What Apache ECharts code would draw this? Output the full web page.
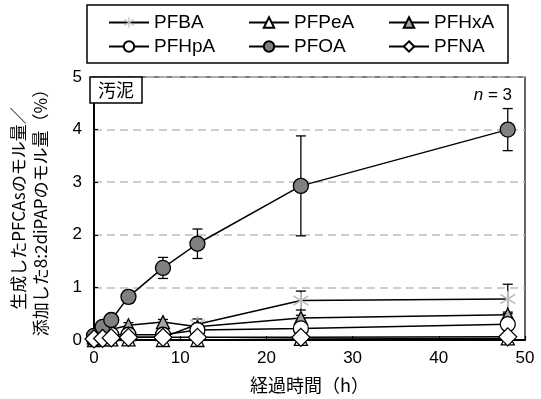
<!DOCTYPE html>
<html>
<head>
<meta charset="utf-8">
<script src="https://cdn.jsdelivr.net/npm/echarts@6/dist/echarts.min.js"></script>
<style>
  html, body { margin: 0; padding: 0; background: #fff; }
  #chart { width: 541px; height: 399px; }
</style>
</head>
<body>
<div id="chart"></div>
<script>
// Elapsed time (h)
const times = [0, 1, 2, 4, 8, 12, 24, 48];

// Mean yield (%) and standard deviation per compound
const PFBA      = [0.02, 0.05, 0.05, 0.05, 0.05, 0.30, 0.75, 0.78];
const PFBA_sd   = [0.02, 0.03, 0.03, 0.03, 0.03, 0.10, 0.18, 0.28];
const PFPeA     = [0.00, 0.01, 0.01, 0.01, 0.00, 0.00, 0.02, 0.03];
const PFPeA_sd  = [0.01, 0.01, 0.01, 0.01, 0.01, 0.01, 0.01, 0.01];
const PFHxA     = [0.05, 0.15, 0.20, 0.28, 0.34, 0.25, 0.42, 0.48];
const PFHxA_sd  = [0.03, 0.05, 0.05, 0.05, 0.05, 0.05, 0.05, 0.05];
const PFHpA     = [0.03, 0.12, 0.10, 0.10, 0.10, 0.19, 0.22, 0.30];
const PFHpA_sd  = [0.02, 0.05, 0.05, 0.03, 0.03, 0.05, 0.03, 0.05];
const PFOA      = [0.08, 0.25, 0.38, 0.82, 1.37, 1.83, 2.93, 4.00];
const PFOA_sd   = [0.03, 0.08, 0.10, 0.12, 0.20, 0.28, 0.95, 0.40];
const PFNA      = [0.02, 0.03, 0.04, 0.05, 0.05, 0.05, 0.05, 0.06];
const PFNA_sd   = [0.01, 0.01, 0.01, 0.01, 0.01, 0.01, 0.01, 0.01];

const yTicks = [0, 1, 2, 3, 4, 5];
const xTicks = [0, 10, 20, 30, 40, 50];

const LATIN = '"Liberation Sans", Arial, "Noto Sans CJK JP", sans-serif';
const CJK = '"Noto Sans CJK JP", "Liberation Sans", sans-serif';

// Asterisk marker: one vertical bar and two diagonal bars
const ASTERISK = 'path://M45,0 L55,0 L55,100 L45,100 Z ' +
  'M93.9,74.6 L88.1,82.8 L6.1,25.4 L11.9,17.2 Z ' +
  'M88.1,17.2 L93.9,25.4 L11.9,82.8 L6.1,74.6 Z';

const pairs = (ys) => times.map((t, i) => [t, ys[i]]);
const errs = (ys, sd) => times.map((t, i) => [t, ys[i], sd[i]]);

function lineSeries(name, ys, symbol, size, fill, border, z) {
  return {
    name, type: 'line', data: pairs(ys), symbol, symbolSize: size,
    z, clip: false,
    lineStyle: { color: '#000', width: 1.5 },
    itemStyle: { color: fill, borderColor: border, borderWidth: border === 'none' ? 0 : 1.3 },
    emphasis: { disabled: true },
    animation: false
  };
}

function errSeries(name, ys, sd, z) {
  return {
    name: name + '_sd', type: 'custom', data: errs(ys, sd), z,
    animation: false, silent: true,
    renderItem(params, api) {
      const x = api.value(0), y = api.value(1), e = api.value(2);
      const hi = api.coord([x, y + e]);
      const lo = api.coord([x, Math.max(y - e, 0)]);
      const w = 5;
      const st = { stroke: '#000', lineWidth: 1.3 };
      return {
        type: 'group',
        children: [
          { type: 'line', shape: { x1: hi[0], y1: hi[1], x2: lo[0], y2: lo[1] }, style: st },
          { type: 'line', shape: { x1: hi[0] - w, y1: hi[1], x2: hi[0] + w, y2: hi[1] }, style: st },
          { type: 'line', shape: { x1: lo[0] - w, y1: lo[1], x2: lo[0] + w, y2: lo[1] }, style: st }
        ]
      };
    }
  };
}

function legendCol(left, names) {
  return {
    left, top: 13, orient: 'vertical', data: names, padding: 0,
    itemWidth: 40, itemHeight: 13, itemGap: 5,
    selectedMode: false,
    textStyle: { fontFamily: LATIN, fontSize: 19, lineHeight: 19, color: '#000' }
  };
}

const chart = echarts.init(document.getElementById('chart'), null, { renderer: 'canvas' });
chart.setOption({
  animation: false,
  backgroundColor: '#fff',
  grid: {
    left: 90, right: 16, top: 77, bottom: 56,
    show: true, borderColor: '#000', borderWidth: 1.2
  },
  legend: [
    legendCol(108, ['PFBA', 'PFHpA']),
    legendCol(248, ['PFPeA', 'PFOA']),
    legendCol(388, ['PFHxA', 'PFNA'])
  ],
  xAxis: {
    type: 'value', min: xTicks[0], max: xTicks[xTicks.length - 1], interval: 10,
    axisLine: { lineStyle: { color: '#000', width: 2 } },
    axisTick: { inside: true, length: 4, lineStyle: { color: '#000', width: 1.2 } },
    axisLabel: { fontFamily: LATIN, fontSize: 17, color: '#000', margin: 10 },
    splitLine: { show: false },
    name: '経過時間（h）', nameLocation: 'middle', nameGap: 36,
    nameTextStyle: { fontFamily: CJK, fontSize: 18, color: '#000' }
  },
  yAxis: {
    type: 'value', min: yTicks[0], max: yTicks[yTicks.length - 1], interval: 1,
    axisLine: { show: true, lineStyle: { color: '#000', width: 2 } },
    axisTick: { show: true, inside: true, length: 4, lineStyle: { color: '#000', width: 1.2 } },
    axisLabel: { fontFamily: LATIN, fontSize: 17, color: '#000', margin: 12 },
    splitLine: { show: true, lineStyle: { color: '#bdbdbd', width: 1.5, type: [8, 5] } },
    name: '生成したPFCAsのモル量／\n添加した8:2diPAPのモル量（%）',
    nameLocation: 'middle', nameGap: 42, nameRotate: 90,
    nameTextStyle: { fontFamily: CJK, fontSize: 17, color: '#000', lineHeight: 22 }
  },
  graphic: [
    { type: 'rect', shape: { x: 87, y: 5, width: 421, height: 58 },
      style: { fill: 'none', stroke: '#000', lineWidth: 1.5 }, z: 100 },
    { type: 'rect', shape: { x: 90, y: 77, width: 52, height: 26 },
      style: { fill: '#fff', stroke: '#000', lineWidth: 1.5 }, z: 100 },
    { type: 'text', x: 116, y: 90, z: 101,
      style: { text: '汚泥', font: '18px ' + CJK, fill: '#000', align: 'center', verticalAlign: 'middle' } },
    { type: 'text', x: 512, y: 95, z: 101,
      style: {
        text: '{i|n} = 3', align: 'right', verticalAlign: 'middle',
        font: '17px ' + LATIN, fill: '#000',
        rich: { i: { fontStyle: 'italic', fontFamily: LATIN, fontSize: 17, fill: '#000' } }
      } }
  ],
  series: [
    errSeries('PFBA', PFBA, PFBA_sd, 1),
    errSeries('PFPeA', PFPeA, PFPeA_sd, 1),
    errSeries('PFHxA', PFHxA, PFHxA_sd, 1),
    errSeries('PFHpA', PFHpA, PFHpA_sd, 1),
    errSeries('PFOA', PFOA, PFOA_sd, 1),
    errSeries('PFNA', PFNA, PFNA_sd, 1),
    lineSeries('PFBA', PFBA, ASTERISK, 16, '#bfbfbf', 'none', 2),
    lineSeries('PFPeA', PFPeA, 'triangle', 13, '#fff', '#000', 3),
    lineSeries('PFHxA', PFHxA, 'triangle', 13, '#a6a6a6', '#000', 4),
    lineSeries('PFHpA', PFHpA, 'circle', 15, '#fff', '#000', 5),
    lineSeries('PFOA', PFOA, 'circle', 15, '#808080', '#000', 6),
    lineSeries('PFNA', PFNA, 'diamond', 18, '#fff', '#000', 7)
  ]
});
</script>
</body>
</html>
